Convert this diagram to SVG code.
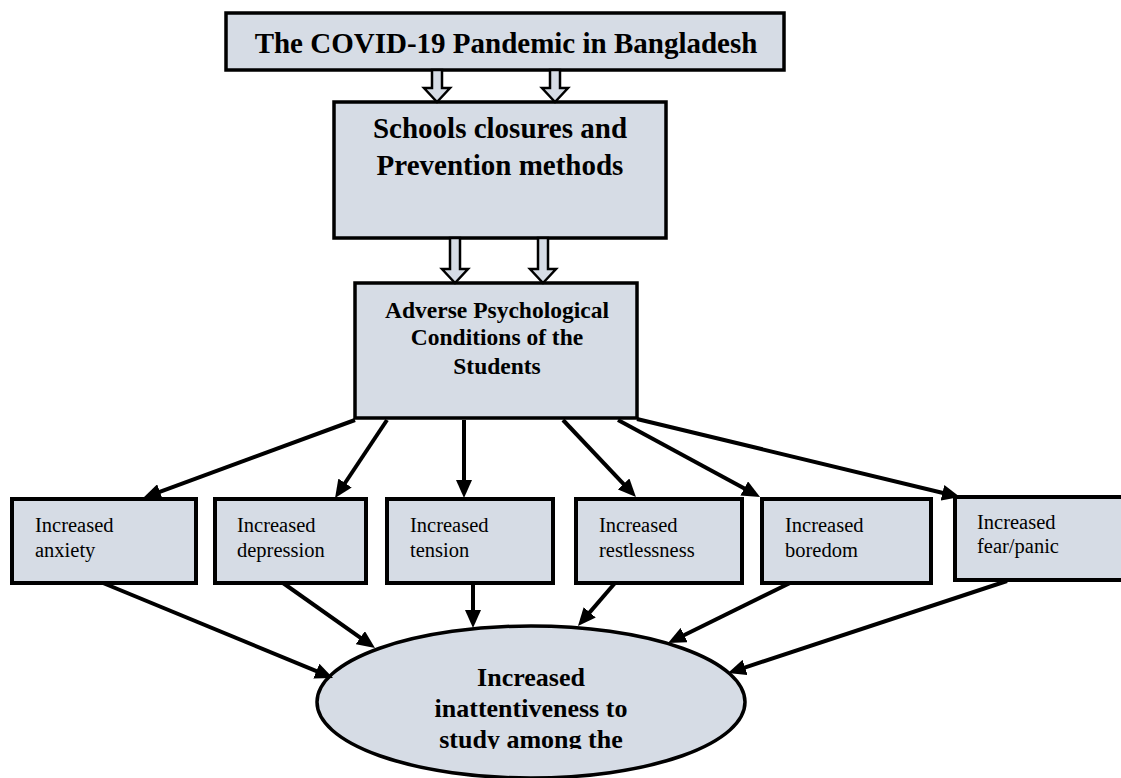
<svg xmlns="http://www.w3.org/2000/svg" width="1121" height="778" viewBox="0 0 1121 778">
  <style>
    .box { fill: #d6dce5; stroke: #000; stroke-width: 4; }
    .big { fill: #d6dce5; stroke: #000; stroke-width: 3.5; }
    .hollow { fill: #d6dce5; stroke: #000; stroke-width: 2.5; stroke-linejoin: miter; }
    .t { font-family: "Liberation Serif", "Times New Roman", serif; fill: #000; }
    .b { font-weight: bold; text-anchor: middle; }
    .s { font-size: 20.5px; }
    .edge { stroke: #000; stroke-width: 4; fill: none; marker-end: url(#head); }
  </style>
  <defs>
    <marker id="head" viewBox="0 0 18 16" refX="6" refY="8" markerWidth="18" markerHeight="16" markerUnits="userSpaceOnUse" orient="auto">
      <path d="M0,0 L18,8 L0,16 Z" fill="#000"/>
    </marker>
    <clipPath id="ellClip">
      <rect x="300" y="600" width="480" height="149"/>
    </clipPath>
  </defs>
  <rect width="1121" height="778" fill="#fff"/>

  <!-- Top level: pandemic -->
  <g id="pandemic">
    <rect class="big" x="226" y="13" width="558" height="57"/>
    <text class="t b" x="506" y="53" font-size="29">The COVID-19 Pandemic in Bangladesh</text>
  </g>

  <!-- School closures -->
  <g id="closures">
    <rect class="big" x="334" y="102" width="332" height="136"/>
    <text class="t b" x="500" y="138" font-size="29">Schools closures and</text>
    <text class="t b" x="500" y="175" font-size="29">Prevention methods</text>
  </g>

  <!-- Psychological conditions -->
  <g id="conditions">
    <rect class="big" x="355" y="283" width="282" height="135"/>
    <text class="t b" x="497" y="318" font-size="23.5">Adverse Psychological</text>
    <text class="t b" x="497" y="345" font-size="23.5">Conditions of the</text>
    <text class="t b" x="497" y="374" font-size="23.5">Students</text>
  </g>

  <!-- Individual effects -->
  <g id="anxiety">
    <rect class="box" x="12" y="499" width="184" height="84"/>
    <text class="t s" x="35" y="532">Increased</text>
    <text class="t s" x="35" y="557">anxiety</text>
  </g>
  <g id="depression">
    <rect class="box" x="215" y="499" width="151" height="84"/>
    <text class="t s" x="237" y="532">Increased</text>
    <text class="t s" x="237" y="557">depression</text>
  </g>
  <g id="tension">
    <rect class="box" x="387" y="499" width="166" height="84"/>
    <text class="t s" x="410" y="532">Increased</text>
    <text class="t s" x="410" y="557">tension</text>
  </g>
  <g id="restlessness">
    <rect class="box" x="576" y="499" width="166" height="84"/>
    <text class="t s" x="599" y="532">Increased</text>
    <text class="t s" x="599" y="557">restlessness</text>
  </g>
  <g id="boredom">
    <rect class="box" x="762" y="499" width="169" height="84"/>
    <text class="t s" x="785" y="532">Increased</text>
    <text class="t s" x="785" y="557">boredom</text>
  </g>
  <g id="fear">
    <rect class="box" x="955" y="497" width="190" height="83"/>
    <text class="t s" x="977" y="529">Increased</text>
    <text class="t s" x="977" y="553">fear/panic</text>
  </g>

  <!-- Outcome -->
  <g id="inattentiveness">
    <ellipse cx="531" cy="702" rx="214" ry="76" fill="#d6dce5" stroke="#000" stroke-width="3.5"/>
    <g clip-path="url(#ellClip)">
      <text class="t b" x="531" y="686" font-size="26">Increased</text>
      <text class="t b" x="531" y="717" font-size="26">inattentiveness to</text>
      <text class="t b" x="531" y="748" font-size="26">study among the</text>
    </g>
  </g>

  <g id="connectors">
    <!-- block arrows between the top three levels -->
    <polygon class="hollow" points="432,70 442,70 442,88 450,88 437,102 424,88 432,88"/>
    <polygon class="hollow" points="550,70 560,70 560,88 568,88 555,102 542,88 550,88"/>
    <polygon class="hollow" points="450,238 460,238 460,269 468,269 455,283 442,269 450,269"/>
    <polygon class="hollow" points="538,238 548,238 548,269 556,269 543,283 530,269 538,269"/>

    <!-- conditions to each effect -->
    <line class="edge" x1="355" y1="420" x2="154.3" y2="493.9"/>
    <line class="edge" x1="387" y1="420" x2="341.7" y2="488"/>
    <line class="edge" x1="464" y1="420" x2="464" y2="486"/>
    <line class="edge" x1="563" y1="420" x2="627.7" y2="488.3"/>
    <line class="edge" x1="618" y1="420" x2="749.5" y2="491.3"/>
    <line class="edge" x1="637" y1="419" x2="948.3" y2="494.2"/>

    <!-- each effect to the outcome -->
    <line class="edge" x1="103" y1="583" x2="321.9" y2="673.4"/>
    <line class="edge" x1="283" y1="583" x2="365.2" y2="641.1"/>
    <line class="edge" x1="473" y1="583" x2="473" y2="616"/>
    <line class="edge" x1="615" y1="583" x2="585.8" y2="616.9"/>
    <line class="edge" x1="790" y1="583" x2="678.8" y2="637.7"/>
    <line class="edge" x1="1007" y1="581" x2="739.4" y2="669.3"/>
  </g>
</svg>
